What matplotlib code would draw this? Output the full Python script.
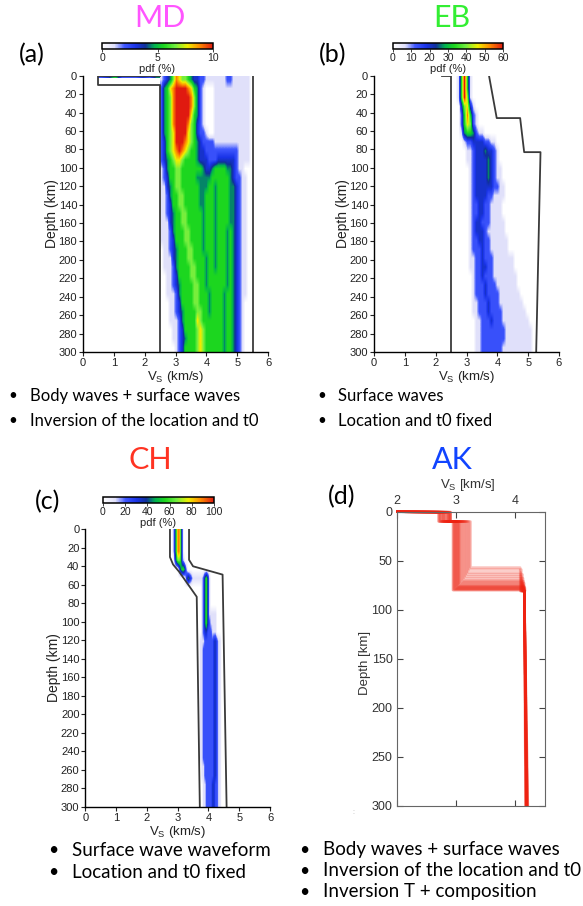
import numpy as np
import matplotlib
matplotlib.use("Agg")
import matplotlib.pyplot as plt
from matplotlib.colors import LinearSegmentedColormap, Normalize
from matplotlib.cm import ScalarMappable

plt.rcParams["font.family"] = ["Liberation Sans", "DejaVu Sans"]
plt.rcParams["mathtext.fontset"] = "custom"
plt.rcParams["mathtext.rm"] = "Liberation Sans"
plt.rcParams["mathtext.it"] = "Liberation Sans"

# ---------------- data ----------------
DEPTHS = np.arange(0, 301, 10)   # km, one grid row every 10 km

# (a) MD : pdf levels 0-9 (9 = top of colour scale), Vs nodes 2.5..5.5 km/s
A_VS = np.linspace(2.5, 5.5, 31)
A_MAX = 10
A_LEVELS = [
    "1234687665" "4332211111" "1122111111" "0",
    "2457899998" "7542100011" "1111111111" "0",
    "2456899999" "8642100011" "1111111111" "0",
    "2456899999" "8642100011" "1111111111" "0",
    "2456899999" "7542100011" "1111111111" "0",
    "2456899998" "6532100011" "1111111111" "0",
    "2456799997" "6532210011" "1111111111" "0",
    "2356799987" "6543222211" "1111111111" "0",
    "2356789876" "5543322222" "2222221111" "0",
    "2345677655" "5543332223" "3333321111" "0",
    "1245566555" "5555433455" "5544321100" "0",
    "1235566555" "5544444555" "5554322110" "0",
    "1134566555" "5554445545" "5554432110" "0",
    "1124556655" "5554455545" "5554432110" "0",
    "1123556655" "5554455545" "5554432110" "0",
    "1123455665" "5555455545" "5554432110" "0",
    "1113455665" "5555455545" "5554432110" "0",
    "1112455566" "5555455545" "5545432110" "0",
    "1112355566" "5555455545" "5545432110" "0",
    "0112345556" "6555455545" "5545432110" "0",
    "0111345556" "6555545545" "5545432110" "0",
    "0111245555" "6655545545" "5545432110" "0",
    "0011235555" "6655545555" "5545432110" "0",
    "0011234555" "5665545555" "5545432110" "0",
    "0011124555" "5665554555" "5455432110" "0",
    "0001123555" "5665554555" "5455432100" "0",
    "0001123455" "5566554555" "5455432100" "0",
    "0001112455" "5576555555" "5455432100" "0",
    "0000112355" "5567655555" "5455432100" "0",
    "0000112345" "5567655555" "5455432100" "0",
    "0000012355" "5567655555" "5455432100" "0",
]
# thin coloured strip along the surface left of 2.5 km/s (0-2 km), nodes 0.5..2.5
A_SURF_VS = np.linspace(0.5, 2.5, 9)
A_SURF_LEVELS = "235222324"
A_BOUND_LOW_V = [2.5, 0.5, 0.5, 2.5, 2.5]
A_BOUND_LOW_D = [0, 0, 10, 10, 300]
A_BOUND_HIGH_V = [5.5, 5.5]
A_BOUND_HIGH_D = [0, 300]

# (b) EB
B_VS = np.linspace(2.5, 5.5, 31)
B_MAX = 60
B_LEVELS = [
    "0015951000" "0000000000" "0000000000" "0",
    "0015951000" "0000000000" "0000000000" "0",
    "0015961000" "0000000000" "0000000000" "0",
    "0003673100" "0000000000" "0000000000" "0",
    "0002585210" "0000000000" "0000000000" "0",
    "0002576210" "0000000000" "0000000000" "0",
    "0001455421" "1000000000" "0000000000" "0",
    "0000122333" "3221100000" "0000000000" "0",
    "0000011233" "3433210000" "0000000000" "0",
    "0000011233" "3343210000" "0000000000" "0",
    "0000001233" "3343211000" "0000000000" "0",
    "0000001233" "3343211000" "0000000000" "0",
    "0000001233" "3333221100" "0000000000" "0",
    "0000001233" "3322111100" "0000000000" "0",
    "0000001223" "3221111000" "0000000000" "0",
    "0000001223" "3221111000" "0000000000" "0",
    "0000001233" "2221111100" "0000000000" "0",
    "0000001233" "3211111100" "0000000000" "0",
    "0000001223" "3221111110" "0000000000" "0",
    "0000001222" "3221111110" "0000000000" "0",
    "0000001122" "3222111111" "1000000000" "0",
    "0000001122" "3322111111" "1000000000" "0",
    "0000000122" "3222111111" "1100000000" "0",
    "0000000122" "2322211111" "1100000000" "0",
    "0000000122" "2322221111" "1110000000" "0",
    "0000000112" "2232221111" "1111000000" "0",
    "0000000112" "2232222111" "1111100000" "0",
    "0000000011" "2223222111" "1111110000" "0",
    "0000000011" "2222222211" "1111111000" "0",
    "0000000011" "2222222211" "1111111000" "0",
    "0000000011" "2222222111" "1111111000" "0",
]
B_BOUND_LOW_V = [2.2, 2.5, 2.5]
B_BOUND_LOW_D = [0, 0, 300]
B_BOUND_HIGH_V = [3.73, 3.98, 4.74, 4.87, 5.4, 5.26]
B_BOUND_HIGH_D = [0, 46, 46, 83, 83, 300]

# (c) CH, Vs nodes 2.8..4.6 km/s
C_VS = np.linspace(2.8, 4.6, 37)
C_MAX = 100
C_LEVELS = [
    "0135885200" "0000000000" "0000000000" "0000000",
    "0135885200" "0000000000" "0000000000" "0000000",
    "0135885200" "0000000000" "0000000000" "0000000",
    "0024665210" "0000000000" "0000000000" "0000000",
    "0000024553" "1000000000" "0000000000" "0000000",
    "0000000001" "3432111111" "1245310000" "0000000",
    "0000000000" "0000000000" "1245310000" "0000000",
    "0000000000" "0000000000" "1245310000" "0000000",
    "0000000000" "0000000000" "1245310000" "0000000",
    "0000000000" "0000000000" "1245311111" "0000000",
    "0000000000" "0000000000" "1245321111" "0000000",
    "0000000000" "0000000000" "1233222111" "0000000",
    "0000000000" "0000000001" "1122222233" "2110000",
    "0000000000" "0000000001" "1222222233" "2110000",
    "0000000000" "0000000001" "1222222233" "2110000",
    "0000000000" "0000000001" "1222222233" "2110000",
    "0000000000" "0000000001" "1222222233" "2110000",
    "0000000000" "0000000001" "1222222233" "2110000",
    "0000000000" "0000000001" "1222222233" "2110000",
    "0000000000" "0000000001" "1222222233" "2110000",
    "0000000000" "0000000001" "1222222233" "2110000",
    "0000000000" "0000000001" "1222222233" "2110000",
    "0000000000" "0000000001" "1222222233" "2110000",
    "0000000000" "0000000001" "1222222233" "2110000",
    "0000000000" "0000000001" "1222222233" "2110000",
    "0000000000" "0000000001" "1222222233" "2110000",
    "0000000000" "0000000000" "1122222233" "2110000",
    "0000000000" "0000000000" "1122222233" "2110000",
    "0000000000" "0000000000" "0112222332" "2110000",
    "0000000000" "0000000000" "0112222332" "2110000",
    "0000000000" "0000000000" "0112222332" "2110000",
]
C_BOUND_LOW_V = [2.75, 2.75, 2.85, 3.05, 3.62, 3.72]
C_BOUND_LOW_D = [0, 30, 38, 46, 73, 300]
C_BOUND_HIGH_V = [3.37, 3.37, 3.5, 4.46, 4.59]
C_BOUND_HIGH_D = [0, 33, 40, 49, 300]

# (d) AK : ensemble of layered models
AK_VUC = [2.70, 2.90, 2.75, 2.85, 2.80, 2.72, 2.88, 2.78, 2.90, 2.82, 2.70,
          2.86, 2.76, 2.90, 2.84, 2.74, 2.88, 2.80, 2.90, 2.72, 2.86, 2.78]
AK_VLC = [3.24, 3.22, 3.20, 3.18, 3.16, 3.14, 3.12, 3.10, 3.08, 3.06, 3.05,
          3.04, 3.03, 3.02, 3.01, 3.00, 2.99, 2.98, 2.97, 2.96, 2.95, 2.94]
AK_MOHO = [57, 59, 62, 64, 66, 68, 70, 71, 72, 73, 74,
           75, 76, 76, 77, 77, 78, 78, 79, 79, 80, 80]
AK_VM = [4.08, 4.10, 4.09, 4.12, 4.10, 4.13, 4.11, 4.14, 4.12, 4.15, 4.13,
         4.14, 4.15, 4.13, 4.16, 4.14, 4.15, 4.16, 4.14, 4.15, 4.16, 4.15]
AK_V300 = [4.17, 4.18, 4.19, 4.20, 4.18, 4.19, 4.21, 4.19, 4.18, 4.20, 4.19,
           4.17, 4.20, 4.19, 4.21, 4.18, 4.19, 4.20, 4.19, 4.18, 4.20, 4.19]
AK_UC_BASE = 10     # km
AK_LID_DEPTH = 81   # km, below this all models share one mantle gradient
AK_LID_VS = 4.15

TITLES = ["MD", "EB", "CH", "AK"]
TITLE_COLORS = ["#ff55ff", "#33ee33", "#ff3322", "#1144ff"]
TEXT_A = ["Body waves + surface waves", "Inversion of the location and t0"]
TEXT_B = ["Surface waves", "Location and t0 fixed"]
TEXT_C = ["Surface wave waveform", "Location and t0 fixed"]
TEXT_D = ["Body waves + surface waves", "Inversion of the location and t0",
          "Inversion T + composition"]

# ---------------- drawing ----------------
W, H = 583, 906
fig = plt.figure(figsize=(W / 100, H / 100), dpi=100)

def px_axes(l, t, r, b):
    return fig.add_axes([l / W, 1 - b / H, (r - l) / W, (b - t) / H])

def ftext(x, y, s, **kw):
    return fig.text(x / W, 1 - y / H, s, **kw)

pdf_cmap = LinearSegmentedColormap.from_list("pdf", [
    (0.0, "#ffffff"), (0.11, "#e0e0fa"), (0.2, "#4058ff"), (0.3, "#1a34e8"),
    (0.39, "#10309a"), (0.47, "#00b050"), (0.56, "#1ed81e"), (0.66, "#70ee40"),
    (0.77, "#f0f000"), (0.88, "#ff8c00"), (1.0, "#e01a10")])

def to_pdf(levels, vmax):
    return np.array([[int(c) for c in row] for row in levels]) / 9 * vmax

def pdf_panel(rect, vs, levels, vmax, low, high, cb_rect, cb_ticks, lab_x, lab_y, dep_x):
    ax = px_axes(*rect)
    ax.imshow(to_pdf(levels, vmax), cmap=pdf_cmap, vmin=0, vmax=vmax, aspect="auto",
              interpolation="bilinear", interpolation_stage="data",
              extent=(vs[0], vs[-1], DEPTHS[-1], DEPTHS[0]), origin="upper")
    ax.plot(low[0], low[1], color="#3a3a3a", lw=1.3)
    ax.plot(high[0], high[1], color="#3a3a3a", lw=1.3)
    ax.set_xlim(0, 6)
    ax.set_ylim(300, 0)
    ax.set_xticks(range(0, 7))
    ax.set_yticks(range(0, 301, 20))
    for s in ["top", "right"]:
        ax.spines[s].set_visible(False)
    for s in ["left", "bottom"]:
        ax.spines[s].set_linewidth(1.0)
    ax.tick_params(labelsize=8, length=3, width=0.8, pad=1.2, colors="#222222")
    ftext(lab_x, lab_y, "V$_{\\rm S}$ (km/s)", ha="center", va="center", fontsize=9.5, color="#222222")
    ftext(dep_x, (rect[1] + rect[3]) / 2, "Depth (km)", ha="center", va="center",
          rotation=90, fontsize=10, color="#222222")
    cax = px_axes(*cb_rect)
    cb = fig.colorbar(ScalarMappable(Normalize(0, vmax), pdf_cmap), cax=cax,
                      orientation="horizontal", ticks=cb_ticks)
    cb.outline.set_linewidth(1.1)
    cax.tick_params(labelsize=7.5, length=2, width=0.6, pad=1, colors="#222222")
    ftext((cb_rect[0] + cb_rect[2]) / 2, cb_rect[3] + 20, "pdf (%)", ha="center",
          va="center", fontsize=8, color="#222222")
    return ax

axa = pdf_panel((83, 75.7, 268, 352), A_VS, A_LEVELS, A_MAX,
                (A_BOUND_LOW_V, A_BOUND_LOW_D), (A_BOUND_HIGH_V, A_BOUND_HIGH_D),
                (102, 43, 213, 49), [0, 5, 10], 176, 377, 52)
axa.imshow(to_pdf([A_SURF_LEVELS], A_MAX), cmap=pdf_cmap, vmin=0, vmax=A_MAX,
           aspect="auto", interpolation="bilinear", interpolation_stage="data",
           extent=(A_SURF_VS[0], A_SURF_VS[-1], 2.2, 0), origin="upper")
axa.set_xlim(0, 6)
axa.set_ylim(300, 0)
pdf_panel((374, 75.7, 559, 352), B_VS, B_LEVELS, B_MAX,
          (B_BOUND_LOW_V, B_BOUND_LOW_D), (B_BOUND_HIGH_V, B_BOUND_HIGH_D),
          (393, 43, 503, 49), list(range(0, 61, 10)), 467, 377, 343)
pdf_panel((85.3, 529.3, 270, 806.7), C_VS, C_LEVELS, C_MAX,
          (C_BOUND_LOW_V, C_BOUND_LOW_D), (C_BOUND_HIGH_V, C_BOUND_HIGH_D),
          (103, 497, 214, 503), list(range(0, 101, 20)), 178, 832, 54)

# (d) ensemble panel
axd = px_axes(397.3, 511.7, 545, 805.7)
for vuc, vlc, moho, vm, v300 in zip(AK_VUC, AK_VLC, AK_MOHO, AK_VM, AK_V300):
    v = [2.0, vuc, vuc, vlc, vlc, vm, vm, AK_LID_VS, v300]
    d = [0, 0.5, AK_UC_BASE, AK_UC_BASE, moho, moho, AK_LID_DEPTH, AK_LID_DEPTH, 300]
    axd.plot(v, d, color="#ee2211", alpha=0.28, lw=1.8, clip_on=False)
axd.set_xlim(2, 4.5)
axd.set_ylim(300, 0)
axd.set_xticks([2, 3, 4])
axd.set_yticks(range(0, 301, 50))
axd.tick_params(direction="in", top=True, right=True, labeltop=True, labelbottom=False,
                labelsize=9, length=4, width=0.8, colors="#444444", labelcolor="#333333")
for s in axd.spines.values():
    s.set_color("#666666")
    s.set_linewidth(0.8)
ftext(468, 485, "V$_{\\rm S}$ [km/s]", ha="center", va="center", fontsize=9.5, color="#333333")
ftext(365, 663, "Depth [km]", ha="center", va="center", rotation=90, fontsize=9.5, color="#333333")
ftext(353, 812, ":", ha="center", va="center", fontsize=5, color="#aaaaaa")

# titles and panel letters
for (x, y), t, c in zip([(160, 18), (452, 18), (150, 460), (452, 460)], TITLES, TITLE_COLORS):
    ftext(x, y, t, ha="center", va="center", fontsize=22, color=c, family="Lato")
for (x, y), t in zip([(32, 55), (333, 55), (48, 502), (342, 497)], ["(a)", "(b)", "(c)", "(d)"]):
    ftext(x, y, t, ha="center", va="center", fontsize=18, color="black", family="Lato")

# bullet lists
def bullets(xb, xt, ys, lines, size):
    for y, s in zip(ys, lines):
        ftext(xb, y, "\u2022", ha="center", va="center", fontsize=size - 1, family="Lato")
        ftext(xt, y, s, ha="left", va="center", fontsize=size, family="Lato")

bullets(13, 30, [396, 421], TEXT_A, 12)
bullets(322, 338, [396, 421], TEXT_B, 12)
bullets(53, 72, [850, 872], TEXT_C, 13.5)
bullets(304, 323, [850, 871, 892], TEXT_D, 13.5)

fig.savefig("out.png", dpi=100)
